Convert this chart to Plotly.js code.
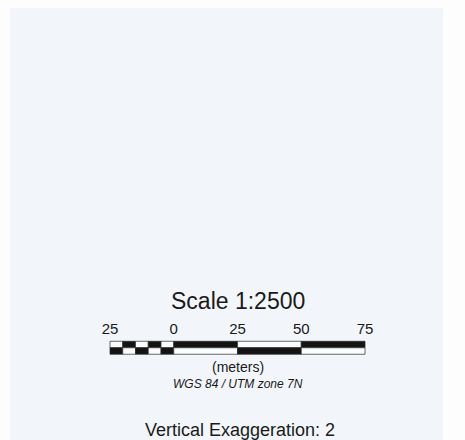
<!DOCTYPE html>
<html>
<head>
<meta charset="utf-8">
<script src="https://cdn.plot.ly/plotly-3.0.1.min.js"></script>
<style>html,body{margin:0;padding:0;background:#fdfdfd;}#chart{width:465px;height:440px;}</style>
</head>
<body>
<div id="chart"></div>
<script>
// Scale bar segments (meters)
var segStart = [-25, -20, -15, -10, -5, 0, 25, 50];
var segEnd   = [-20, -15, -10, -5, 0, 25, 50, 75];
var topFill    = ['#fafcfd', '#141414', '#fafcfd', '#141414', '#fafcfd', '#141414', '#fafcfd', '#141414'];
var bottomFill = ['#141414', '#fafcfd', '#141414', '#fafcfd', '#141414', '#fafcfd', '#141414', '#fafcfd'];
// Tick labels
var tickVals = [-25, 0, 25, 50, 75];
var tickText = ['25', '0', '25', '50', '75'];
// Texts
var titleText = 'Scale 1:2500';
var unitText = '(meters)';
var crsText = 'WGS 84 / UTM zone 7N';
var veText = 'Vertical Exaggeration: 2';

var widths = segStart.map(function (s, i) { return segEnd[i] - s; });
var rowY = [344.5, 351];
var font = 'Arial, "Liberation Sans", sans-serif';
var ink = '#1a1a1a';

function row(y, fills) {
  return {
    type: 'bar', orientation: 'h',
    base: segStart, x: widths,
    y: segStart.map(function () { return y; }),
    width: 6.5,
    marker: { color: fills, line: { color: '#2a2a2a', width: 0.7 } },
    hoverinfo: 'skip', showlegend: false
  };
}

var traces = [
  row(rowY[0], topFill),
  row(rowY[1], bottomFill),
  {
    type: 'scatter', mode: 'text',
    x: tickVals, y: tickVals.map(function () { return 330; }),
    text: tickText, textposition: 'middle center',
    textfont: { family: font, size: 15, color: ink },
    hoverinfo: 'skip', showlegend: false
  }
];

var layout = {
  width: 465, height: 440,
  margin: { l: 0, r: 0, t: 0, b: 0 },
  paper_bgcolor: '#fdfdfd', plot_bgcolor: 'rgba(0,0,0,0)',
  barmode: 'overlay',
  xaxis: { range: [-68.14, 114.2], visible: false, fixedrange: true },
  yaxis: { range: [440, 0], visible: false, fixedrange: true },
  shapes: [{
    type: 'rect', xref: 'paper', yref: 'paper',
    x0: 10 / 465, x1: 443 / 465, y0: 0, y1: 1 - 8 / 440,
    fillcolor: '#f2f6fa', line: { width: 0 }, layer: 'below'
  }],
  annotations: [
    { text: titleText, x: 25, y: 301, xref: 'x', yref: 'y', showarrow: false,
      xanchor: 'center', yanchor: 'middle', font: { family: font, size: 23, color: ink } },
    { text: unitText, x: 25, y: 367, xref: 'x', yref: 'y', showarrow: false,
      xanchor: 'center', yanchor: 'middle', font: { family: font, size: 14, color: ink } },
    { text: '<i>' + crsText + '</i>', x: 25, y: 384, xref: 'x', yref: 'y', showarrow: false,
      xanchor: 'center', yanchor: 'middle', font: { family: font, size: 12, color: ink } },
    { text: veText, x: 240 / 465, y: 430, xref: 'paper', yref: 'y', showarrow: false,
      xanchor: 'center', yanchor: 'middle', font: { family: font, size: 18, color: ink } }
  ]
};

Plotly.newPlot('chart', traces, layout, { displayModeBar: false, staticPlot: true });
</script>
</body>
</html>
